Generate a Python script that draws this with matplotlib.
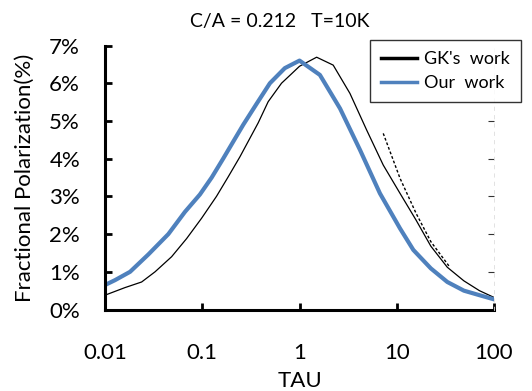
import numpy as np
import matplotlib.pyplot as plt
from matplotlib.lines import Line2D

plt.rcParams['font.family'] = ['Lato', 'DejaVu Sans']

# Our work (blue)
tau_our = [0.01, 0.0127, 0.0181, 0.0279, 0.0448, 0.0664, 0.0946, 0.125, 0.164,
           0.208, 0.264, 0.361, 0.496, 0.706, 1.0, 1.62, 2.61, 4.19, 6.71,
           10.8, 14.8, 22.4, 33.1, 49.0, 70.8, 100.0]
pol_our = [0.65, 0.78, 1.0, 1.46, 2.0, 2.59, 3.05, 3.50, 4.0,
           4.45, 4.90, 5.45, 6.0, 6.40, 6.60, 6.22, 5.33, 4.23, 3.08,
           2.15, 1.58, 1.09, 0.73, 0.50, 0.38, 0.27]

# GK's work (black)
tau_gk = [0.01, 0.016, 0.0238, 0.0327, 0.0484, 0.069, 0.0984, 0.140, 0.185,
          0.244, 0.376, 0.476, 0.653, 0.828, 1.0, 1.50, 2.22, 3.30, 4.90,
          7.26, 10.8, 15.8, 22.4, 33.1, 49.0, 70.8, 100.0]
pol_gk = [0.38, 0.58, 0.73, 1.0, 1.40, 1.88, 2.42, 3.0, 3.52,
          4.05, 4.95, 5.51, 6.0, 6.25, 6.45, 6.69, 6.48, 5.73, 4.76,
          3.83, 3.08, 2.37, 1.68, 1.12, 0.76, 0.50, 0.32]

# dashed tail
tau_dash = [7.26, 10.8, 15.8, 22.4, 35.2]
pol_dash = [4.67, 3.48, 2.55, 1.80, 1.12]

ticks_x = [0.01, 0.1, 1, 10, 100]
tick_lbl_x = ['0.01', '0.1', '1', '10', '100']

fig = plt.figure(figsize=(5.32, 3.91), dpi=100)
ax = fig.add_axes([0.1974, 0.2084, 0.7312, 0.6752])

ax.plot(tau_gk, pol_gk, color='black', lw=0.9)
ax.plot(tau_dash, pol_dash, color='black', lw=1.0, ls=(0, (2, 1.5)))
ax.plot(tau_our, pol_our, color='#4f81bd', lw=3.0)

ax.set_xscale('log')
ax.set_xlim(0.01, 100)
ax.set_ylim(0, 7)
ax.set_xticks(ticks_x)
ax.set_xticklabels(tick_lbl_x)
ax.minorticks_off()
ax.set_yticks(range(8))
ax.set_yticklabels([f'{i}%' for i in range(8)])

for s in ['top', 'right']:
    ax.spines[s].set_visible(False)
for s in ['left', 'bottom']:
    ax.spines[s].set_linewidth(2.2)
ax.tick_params(direction='in', length=5, width=2, labelsize=16)
ax.tick_params(axis='y', pad=18)
ax.tick_params(axis='x', pad=24)

# faint right-hand ticks
ax2 = ax.twinx()
ax2.set_ylim(0, 7)
ax2.set_yticks([1, 2, 3, 4, 5])
ax2.set_yticklabels([])
ax2.tick_params(direction='in', length=4, width=0.8, colors='#333333')
for s in ['top', 'left', 'bottom']:
    ax2.spines[s].set_visible(False)
ax2.spines['right'].set_linestyle((0, (4, 6)))
ax2.spines['right'].set_color('#dddddd')
ax2.spines['right'].set_linewidth(0.6)

ax.set_xlabel('TAU', fontsize=16, labelpad=6)
ax.set_ylabel('Fractional Polarization(%)', fontsize=16, labelpad=10)
fig.text(0.526, 0.931, 'C/A = 0.212   T=10K', ha='center', va='baseline', fontsize=14)

handles = [Line2D([], [], color='black', lw=2.5), Line2D([], [], color='#4f81bd', lw=2.5)]
leg = fig.legend(handles, ["GK's  work", 'Our  work'], loc='upper right',
                 bbox_to_anchor=(0.979, 0.8977), fontsize=13, frameon=True,
                 fancybox=False, edgecolor='black', handlelength=2.0,
                 borderpad=0.6, labelspacing=0.45, handletextpad=0.4,
                 borderaxespad=0)
leg.get_frame().set_linewidth(1.0)

fig.savefig('out.png', dpi=100)
